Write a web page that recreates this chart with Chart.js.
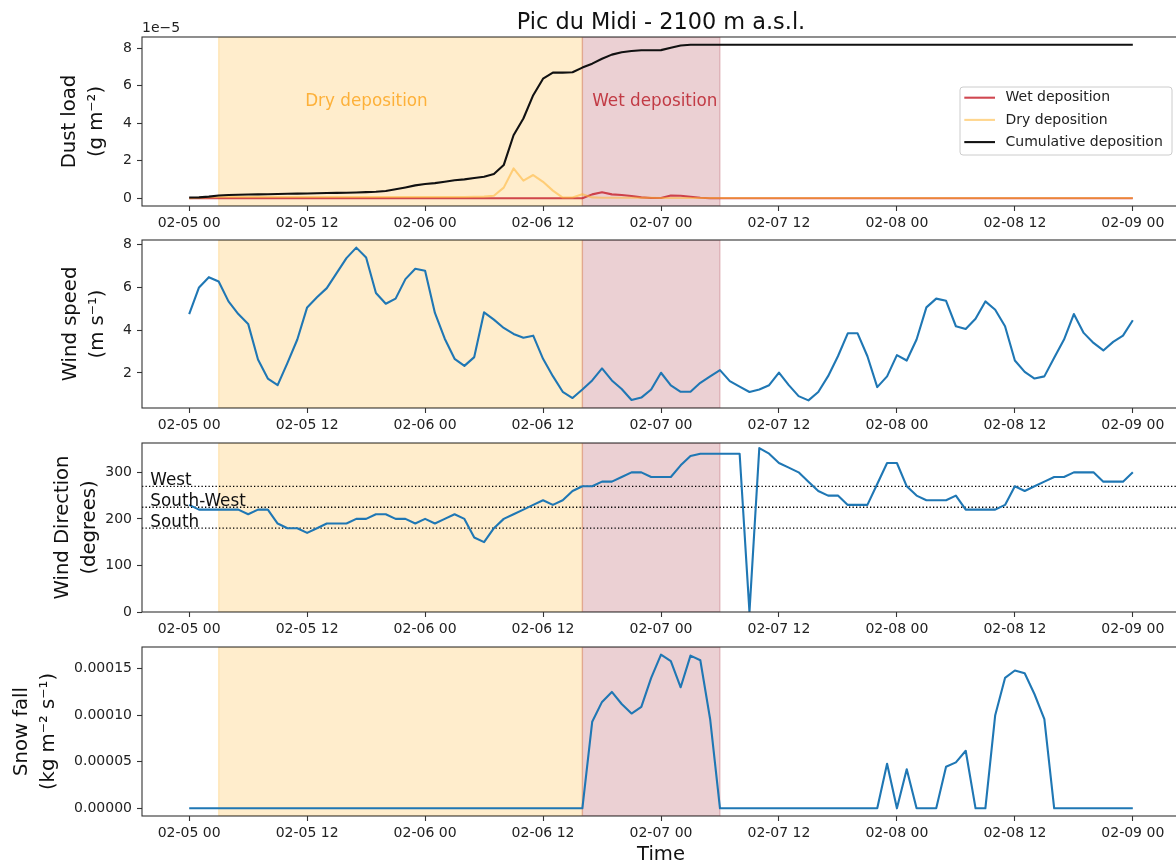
<!DOCTYPE html>
<html>
<head>
<meta charset="utf-8">
<title>Pic du Midi - 2100 m a.s.l.</title>
<script src="https://cdn.jsdelivr.net/npm/chart.js@4.4.1/dist/chart.umd.min.js"></script>
<style>
  html, body { margin: 0; padding: 0; background: #fff; overflow: hidden; }
  #wrap { position: relative; width: 1176px; height: 865px; overflow: hidden; }
  #wrap canvas { position: absolute; left: 0; }
</style>
</head>
<body>
<div id="wrap">
  <canvas id="dust" width="1180" height="236" style="top:0px"></canvas>
  <canvas id="speed" width="1180" height="214" style="top:224px"></canvas>
  <canvas id="dir" width="1180" height="215" style="top:427px"></canvas>
  <canvas id="snow" width="1180" height="234" style="top:631px"></canvas>
</div>
<script>
// hours since 02-05 00 (hourly model output)
const hours = [
   0,  1,  2,  3,  4,  5,  6,  7,  8,  9, 10, 11,
  12, 13, 14, 15, 16, 17, 18, 19, 20, 21, 22, 23,
  24, 25, 26, 27, 28, 29, 30, 31, 32, 33, 34, 35,
  36, 37, 38, 39, 40, 41, 42, 43, 44, 45, 46, 47,
  48, 49, 50, 51, 52, 53, 54, 55, 56, 57, 58, 59,
  60, 61, 62, 63, 64, 65, 66, 67, 68, 69, 70, 71,
  72, 73, 74, 75, 76, 77, 78, 79, 80, 81, 82, 83,
  84, 85, 86, 87, 88, 89, 90, 91, 92, 93, 94, 95,
  96
];
const xTickLabels = ['02-05 00', '02-05 12', '02-06 00', '02-06 12', '02-07 00',
                     '02-07 12', '02-08 00', '02-08 12', '02-09 00'];

// dust load, units of 1e-5 g m-2
const wetDep = [
  0, 0, 0, 0, 0, 0, 0, 0, 0, 0, 0, 0,
  0, 0, 0, 0, 0, 0, 0, 0, 0, 0, 0, 0,
  0, 0, 0, 0, 0, 0, 0, 0, 0, 0, 0, 0,
  0, 0, 0, 0, 0, 0.21, 0.32, 0.21, 0.18, 0.12, 0.05, 0.02,
  0.02, 0.15, 0.14, 0.08, 0.03, 0, 0, 0, 0, 0, 0, 0,
  0, 0, 0, 0, 0, 0, 0, 0, 0, 0, 0, 0,
  0, 0, 0, 0, 0, 0, 0, 0, 0, 0, 0, 0,
  0, 0, 0, 0, 0, 0, 0, 0, 0, 0, 0, 0,
  0
];
const dryDep = [
  0.00, 0.03, 0.06, 0.07, 0.07, 0.07, 0.07, 0.07, 0.07, 0.07, 0.07, 0.07,
  0.07, 0.07, 0.07, 0.07, 0.07, 0.07, 0.07, 0.07, 0.07, 0.07, 0.07, 0.07,
  0.07, 0.07, 0.07, 0.07, 0.07, 0.08, 0.09, 0.14, 0.57, 1.59, 0.94, 1.24,
  0.88, 0.41, 0.04, 0.04, 0.22, 0.05, 0.03, 0.03, 0.03, 0.03, 0.03, 0.03,
  0.02, 0.02, 0.02, 0.02, 0.02, 0.02, 0.02, 0.02, 0.02, 0.02, 0.02, 0.02,
  0.02, 0.02, 0.02, 0.02, 0.02, 0.02, 0.02, 0.02, 0.02, 0.02, 0.02, 0.02,
  0.02, 0.02, 0.02, 0.02, 0.02, 0.02, 0.02, 0.02, 0.02, 0.02, 0.02, 0.02,
  0.02, 0.02, 0.02, 0.02, 0.02, 0.02, 0.02, 0.02, 0.02, 0.02, 0.02, 0.02,
  0.02
];
const cumDep = [
  0.04, 0.05, 0.09, 0.15, 0.18, 0.19, 0.20, 0.21, 0.22, 0.23, 0.24, 0.25,
  0.26, 0.27, 0.28, 0.29, 0.30, 0.31, 0.33, 0.35, 0.39, 0.48, 0.58, 0.69,
  0.76, 0.81, 0.88, 0.96, 1.01, 1.08, 1.15, 1.29, 1.77, 3.36, 4.25, 5.49,
  6.37, 6.69, 6.69, 6.71, 6.96, 7.17, 7.43, 7.65, 7.78, 7.84, 7.88, 7.88,
  7.89, 8.02, 8.14, 8.18, 8.18, 8.18, 8.18, 8.18, 8.18, 8.18, 8.18, 8.18,
  8.18, 8.18, 8.18, 8.18, 8.18, 8.18, 8.18, 8.18, 8.18, 8.18, 8.18, 8.18,
  8.18, 8.18, 8.18, 8.18, 8.18, 8.18, 8.18, 8.18, 8.18, 8.18, 8.18, 8.18,
  8.18, 8.18, 8.18, 8.18, 8.18, 8.18, 8.18, 8.18, 8.18, 8.18, 8.18, 8.18,
  8.18
];

// wind speed, m s-1
const windSpeed = [
  4.75, 5.99, 6.47, 6.27, 5.34, 4.75, 4.29, 2.63, 1.74, 1.43, 2.47, 3.56,
  5.06, 5.53, 5.96, 6.66, 7.36, 7.85, 7.39, 5.73, 5.23, 5.47, 6.38, 6.86,
  6.77, 4.80, 3.60, 2.66, 2.33, 2.74, 4.83, 4.49, 4.10, 3.82, 3.64, 3.74,
  2.66, 1.85, 1.12, 0.83, 1.23, 1.65, 2.21, 1.65, 1.25, 0.74, 0.85, 1.23,
  2.01, 1.42, 1.12, 1.12, 1.54, 1.84, 2.13, 1.62, 1.36, 1.11, 1.23, 1.43,
  2.02, 1.43, 0.92, 0.72, 1.11, 1.85, 2.78, 3.85, 3.85, 2.78, 1.34, 1.84,
  2.83, 2.58, 3.56, 5.06, 5.47, 5.37, 4.18, 4.05, 4.53, 5.34, 4.95, 4.18,
  2.58, 2.05, 1.74, 1.84, 2.71, 3.56, 4.75, 3.87, 3.40, 3.05, 3.45, 3.74,
  4.46
];

// wind direction, degrees
const windDir = [
  230, 220, 220, 220, 220, 220, 210, 220, 220, 190, 180, 180,
  170, 180, 190, 190, 190, 200, 200, 210, 210, 200, 200, 190,
  200, 190, 200, 210, 200, 160, 150, 180, 200, 210, 220, 230,
  240, 230, 240, 260, 270, 270, 280, 280, 290, 300, 300, 290,
  290, 290, 315, 335, 340, 340, 340, 340, 340, 0, 352, 340,
  320, 310, 300, 280, 260, 250, 250, 230, 230, 230, 275, 320,
  320, 270, 250, 240, 240, 240, 250, 220, 220, 220, 220, 230,
  270, 260, 270, 280, 290, 290, 300, 300, 300, 280, 280, 280,
  300
];
const dirRefValues = [270, 225, 180];
const dirRefNames = ['West', 'South-West', 'South'];

// snow fall, kg m-2 s-1
const snowFall = [
  0, 0, 0, 0, 0, 0, 0, 0, 0, 0, 0, 0,
  0, 0, 0, 0, 0, 0, 0, 0, 0, 0, 0, 0,
  0, 0, 0, 0, 0, 0, 0, 0, 0, 0, 0, 0,
  0, 0, 0, 0, 0, 0.0000929, 0.0001143, 0.000125, 0.000112, 0.0001018, 0.000109, 0.00014,
  0.000165, 0.000158, 0.00013, 0.000164, 0.000159, 0.0000957, 0, 0, 0, 0, 0, 0,
  0, 0, 0, 0, 0, 0, 0, 0, 0, 0, 0, 0.0000479,
  0, 0.000042, 0, 0, 0, 0.0000446, 0.0000493, 0.0000618, 0, 0, 0.0001, 0.00014,
  0.000148, 0.000145, 0.0001225, 0.0000957, 0, 0, 0, 0, 0, 0, 0, 0,
  0
];

// deposition phases, hours since start
const dryPeriod = [3, 40];
const wetPeriod = [40, 54];
const phaseNames = ['Dry deposition', 'Wet deposition'];
const chartTitle = 'Pic du Midi - 2100 m a.s.l.';

const FONT = "'DejaVu Sans'";
const LEFT_EDGE = 142;
const BLUE = '#1f77b4';
const WET = 'rgba(200,40,50,0.85)';
const DRY = 'rgba(255,180,50,0.55)';
const CUM = '#111111';

Chart.defaults.font.family = FONT + ", 'Liberation Sans', sans-serif";
Chart.defaults.color = '#222';

function pts(series) {
    return hours.map((h, i) => ({ x: h, y: series[i] }));
}

function line(label, series, color, order) {
    return {
        label: label,
        data: pts(series),
        borderColor: color,
        backgroundColor: color,
        borderWidth: 2.1,
        borderJoinStyle: 'round',
        pointRadius: 0,
        tension: 0,
        fill: false,
        order: order
    };
}

function xAxis(height, showTitle) {
    return {
        type: 'linear',
        min: -4.8,
        max: 100.8,
        afterFit(s) { s.height = height; s.paddingLeft = 0; s.paddingRight = 0; },
        grid: { drawOnChartArea: false, tickLength: 5, tickColor: '#333', tickWidth: 1.1 },
        border: { display: false },
        ticks: {
            stepSize: 12, includeBounds: false, autoSkip: false, maxRotation: 0, padding: 4,
            font: { size: 14 },
            callback: v => xTickLabels[Math.round(v / 12)]
        },
        title: { display: showTitle, text: 'Time', color: '#111', font: { size: 19.6, lineHeight: 1.02 }, padding: 0 }
    };
}

function yAxis(o) {
    return {
        type: 'linear',
        min: o.min,
        max: o.max,
        afterFit(s) { s.width = LEFT_EDGE - o.padLeft; s.paddingTop = 0; s.paddingBottom = 0; },
        grid: { drawOnChartArea: false, tickLength: 5, tickColor: '#333', tickWidth: 1.1 },
        border: { display: false },
        ticks: { stepSize: o.step, includeBounds: false, padding: 5, font: { size: 14 }, callback: o.fmt },
        title: { display: true, text: o.title, color: '#111', font: { size: 19.6, lineHeight: 1.38 }, padding: 0 }
    };
}

function shade(ctx, x, a, period, color) {
    const x0 = x.getPixelForValue(period[0]);
    const x1 = x.getPixelForValue(period[1]);
    ctx.fillStyle = color;
    ctx.fillRect(x0, a.top, x1 - x0, a.bottom - a.top);
    ctx.strokeStyle = color;
    ctx.lineWidth = 1.4;
    ctx.strokeRect(x0, a.top, x1 - x0, a.bottom - a.top);
}

function roundRect(ctx, x, y, w, h, r) {
    ctx.beginPath();
    ctx.moveTo(x + r, y);
    ctx.lineTo(x + w - r, y);
    ctx.arcTo(x + w, y, x + w, y + r, r);
    ctx.lineTo(x + w, y + h - r);
    ctx.arcTo(x + w, y + h, x + w - r, y + h, r);
    ctx.lineTo(x + r, y + h);
    ctx.arcTo(x, y + h, x, y + h - r, r);
    ctx.lineTo(x, y + r);
    ctx.arcTo(x, y, x + r, y, r);
    ctx.closePath();
}

function drawLegend(chart) {
    const { ctx, chartArea: a } = chart;
    const w = 212, h = 68;
    const left = a.right - 8 - w, top = a.top + 50;
    roundRect(ctx, left, top, w, h, 3);
    ctx.fillStyle = 'rgba(255,255,255,0.8)';
    ctx.fill();
    ctx.strokeStyle = '#cccccc';
    ctx.lineWidth = 1;
    ctx.stroke();
    ctx.font = '14px ' + FONT;
    ctx.textAlign = 'left';
    ctx.textBaseline = 'middle';
    chart.data.datasets.forEach((ds, i) => {
        const yy = top + 10.7 + i * 22.2;
        ctx.strokeStyle = ds.borderColor;
        ctx.lineWidth = 2.1;
        ctx.beginPath();
        ctx.moveTo(left + 4.3, yy);
        ctx.lineTo(left + 35, yy);
        ctx.stroke();
        ctx.fillStyle = '#222';
        ctx.fillText(ds.label, left + 45.5, yy);
    });
}

const decor = {
    id: 'decor',
    beforeDatasetsDraw(chart, args, opts) {
        const { ctx, chartArea: a, scales: { x, y } } = chart;
        ctx.save();
        ctx.beginPath();
        ctx.rect(a.left, a.top, a.width, a.height);
        ctx.clip();
        shade(ctx, x, a, dryPeriod, 'rgba(255,165,0,0.2)');
        shade(ctx, x, a, wetPeriod, 'rgba(155,20,35,0.2)');
        if (opts.kind === 'dir') {
            ctx.strokeStyle = '#000';
            ctx.lineWidth = 1.3;
            ctx.setLineDash([1.3, 2.2]);
            dirRefValues.forEach(v => {
                const py = y.getPixelForValue(v);
                ctx.beginPath();
                ctx.moveTo(a.left, py);
                ctx.lineTo(a.right, py);
                ctx.stroke();
            });
        }
        ctx.restore();
    },
    afterDatasetsDraw(chart, args, opts) {
        const { ctx, chartArea: a, scales: { x, y } } = chart;
        ctx.save();
        ctx.strokeStyle = '#333';
        ctx.lineWidth = 1.1;
        ctx.strokeRect(a.left, a.top, a.width, a.height);

        if (opts.kind === 'dir') {
            ctx.font = '16.8px ' + FONT;
            ctx.fillStyle = '#111';
            ctx.textAlign = 'left';
            ctx.textBaseline = 'alphabetic';
            dirRefValues.forEach((v, i) => {
                ctx.fillText(dirRefNames[i], x.getPixelForValue(-3.95), y.getPixelForValue(v) - 1.5);
            });
        }

        if (opts.kind === 'dust') {
            // phase annotations
            ctx.font = '16.8px ' + FONT;
            ctx.textAlign = 'left';
            ctx.textBaseline = 'middle';
            ctx.fillStyle = '#fdb13a';
            ctx.fillText(phaseNames[0], x.getPixelForValue(11.8), y.getPixelForValue(5.17));
            ctx.fillStyle = '#c23b45';
            ctx.fillText(phaseNames[1], x.getPixelForValue(41.0), y.getPixelForValue(5.17));

            // figure title and axis offset text
            ctx.fillStyle = '#111';
            ctx.font = '22.4px ' + FONT;
            ctx.textAlign = 'center';
            ctx.textBaseline = 'alphabetic';
            ctx.fillText(chartTitle, (a.left + a.right) / 2, a.top - 8.4);
            ctx.font = '14px ' + FONT;
            ctx.textAlign = 'left';
            ctx.fillStyle = '#222';
            ctx.fillText('1e\u22125', a.left, a.top - 5.3);

            drawLegend(chart);
        }
        ctx.restore();
    }
};

function panel(id, kind, padLeft, padTop, xHeight, showTime, datasets, y) {
    return new Chart(document.getElementById(id), {
        type: 'line',
        data: { datasets: datasets },
        options: {
            responsive: false,
            animation: false,
            events: [],
            layout: { padding: { left: padLeft, top: padTop, right: 0, bottom: 0 } },
            scales: {
                x: xAxis(xHeight, showTime),
                y: yAxis(Object.assign({ padLeft: padLeft }, y))
            },
            plugins: {
                legend: { display: false },
                tooltip: { enabled: false },
                decor: { kind: kind }
            }
        },
        plugins: [decor]
    });
}

panel('dust', 'dust', 56, 37, 30, false, [
    line('Wet deposition', wetDep, WET, 3),
    line('Dry deposition', dryDep, DRY, 2),
    line('Cumulative deposition', cumDep, CUM, 1)
], { min: -0.409, max: 8.589, step: 2, title: ['Dust load', '(g m\u207B\u00B2)'], fmt: v => String(v) });

panel('speed', 'speed', 57.5, 16, 30, false, [
    line('Wind speed', windSpeed, BLUE, 1)
], { min: 0.364, max: 8.206, step: 2, title: ['Wind speed', '(m s\u207B\u00B9)'], fmt: v => String(v) });

panel('dir', 'dir', 49.5, 16, 30, false, [
    line('Wind direction', windDir, BLUE, 1)
], { min: 0, max: 363, step: 100, title: ['Wind Direction', '(degrees)'], fmt: v => String(v) });

panel('snow', 'snow', 8.3, 16, 49, true, [
    line('Snow fall', snowFall, BLUE, 1)
], { min: -0.00000825, max: 0.00017325, step: 0.00005, title: ['Snow fall', '(kg m\u207B\u00B2 s\u207B\u00B9)'], fmt: v => v.toFixed(5) });
</script>
</body>
</html>
